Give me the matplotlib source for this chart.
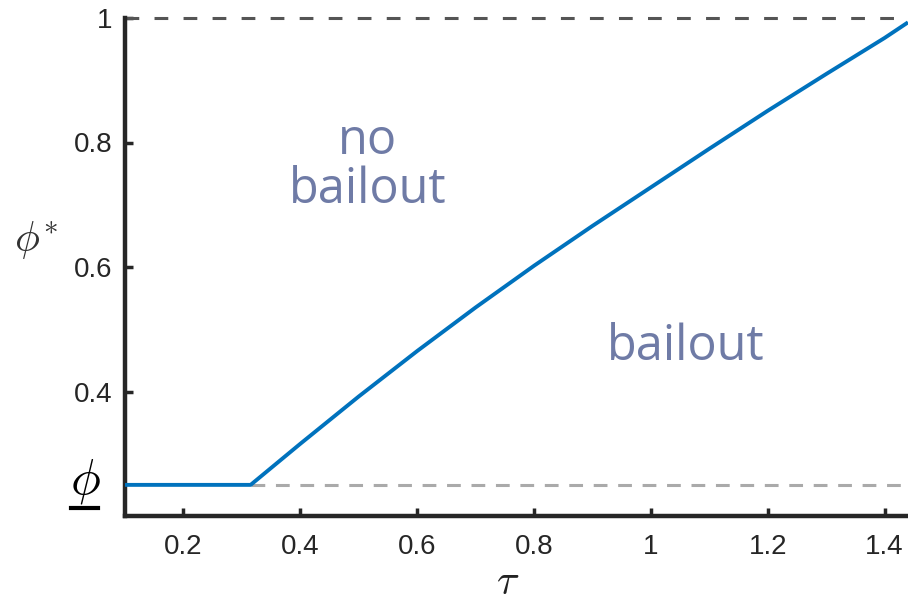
import matplotlib
matplotlib.use("Agg")
import matplotlib.pyplot as plt
from matplotlib.lines import Line2D

# threshold curve phi*(tau)
tau = [0.1, 0.315, 0.4, 0.5, 0.6, 0.7, 0.8, 0.9, 1.0, 1.1, 1.2, 1.3, 1.4, 1.44]
phi_star = [0.25, 0.25, 0.316, 0.392, 0.465, 0.535, 0.602, 0.666, 0.728, 0.790, 0.851, 0.910, 0.968, 0.993]
phi_low = 0.25
phi_top = 1.0
kink_tau = 0.315

x_ticks = [0.2, 0.4, 0.6, 0.8, 1.0, 1.2, 1.4]
x_tick_labels = ["0.2", "0.4", "0.6", "0.8", "1", "1.2", "1.4"]
y_ticks = [0.4, 0.6, 0.8, 1.0]
y_tick_labels = ["0.4", "0.6", "0.8", "1"]

plt.rcParams["font.family"] = ["Liberation Sans", "DejaVu Sans"]
plt.rcParams["mathtext.fontset"] = "cm"

fig = plt.figure(figsize=(9.08, 6.03), dpi=100)
ax = fig.add_axes([125 / 908, 87 / 603, 1 - 125 / 908, (516 - 18) / 603])

ax.set_xlim(0.1, 1.44)
ax.set_ylim(0.2, 1.0)

# reference levels
ax.plot([0.1, 1.44], [phi_top, phi_top], color="#555555", lw=2.2,
        dashes=(4.5, 5), clip_on=False, zorder=2)
ax.plot([kink_tau, 1.44], [phi_low, phi_low], color="#aaaaaa", lw=2.2,
        dashes=(4.5, 3.5), clip_on=False, zorder=2)

ax.plot(tau, phi_star, color="#0072BD", lw=2.8, solid_capstyle="butt",
        solid_joinstyle="round", zorder=3)

ax.text(0.515, 0.763, "no\nbailout", color="#6f7ba6", fontsize=35,
        family=["Open Sans", "DejaVu Sans"], ha="center", va="center",
        linespacing=1.0)
ax.text(1.059, 0.471, "bailout", color="#6f7ba6", fontsize=35,
        family=["Open Sans", "DejaVu Sans"], ha="center", va="center")

for side in ("top", "right"):
    ax.spines[side].set_visible(False)
for side in ("left", "bottom"):
    ax.spines[side].set_linewidth(3.2)
    ax.spines[side].set_color("#262626")

ax.set_xticks(x_ticks)
ax.set_xticklabels(x_tick_labels)
ax.set_yticks(y_ticks)
ax.set_yticklabels(y_tick_labels)
ax.tick_params(direction="in", length=6, width=2.5, colors="#262626",
               labelsize=20)
ax.tick_params(axis="x", pad=13)
ax.tick_params(axis="y", pad=9)

fig.text(508 / 908, 1 - 583 / 603, r"$\tau$", fontsize=30, ha="center",
         va="center", color="#222222")
fig.text(36 / 908, 1 - 240 / 603, r"$\phi^{*}$", fontsize=30, ha="center",
         va="center", color="#333333")
fig.text(85 / 908, 1 - 482 / 603, r"$\phi$", fontsize=36, ha="center",
         va="center", color="black")
fig.add_artist(Line2D([71 / 908, 98 / 908], [1 - 508 / 603, 1 - 508 / 603],
                      color="black", lw=3, transform=fig.transFigure))

fig.savefig("out.png", dpi=100)
